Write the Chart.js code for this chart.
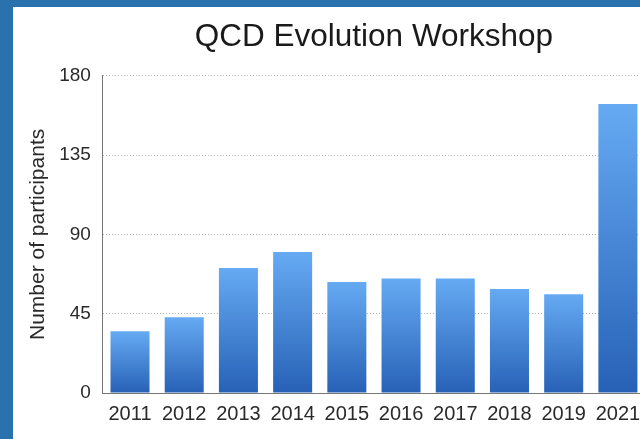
<!DOCTYPE html>
<html>
<head>
<meta charset="utf-8">
<script src="https://cdn.jsdelivr.net/npm/chart.js@4"></script>
<style>
  html, body { margin: 0; padding: 0; background: #2a72ad; width: 640px; height: 439px; overflow: hidden; }
  #panel { position: absolute; left: 13px; top: 7px; width: 627px; height: 432px; background: #fff; overflow: hidden; }
  #wrap { position: absolute; left: 0; top: 0; width: 660px; height: 432px; }
</style>
</head>
<body>
<div id="panel"><div id="wrap"><canvas id="c" width="660" height="432"></canvas></div></div>
<script>
const years = ["2011", "2012", "2013", "2014", "2015", "2016", "2017", "2018", "2019", "2021"];
const participants = [35, 43, 71, 80, 63, 65, 65, 59, 56, 164];
const yTicks = [0, 45, 90, 135, 180];
const titleText = "QCD Evolution Workshop";
const yTitle = "Number of participants";

const FONT = "'Liberation Sans', Arial, sans-serif";

function barGradient(ctx) {
  const chart = ctx.chart;
  if (!chart.chartArea || ctx.raw === undefined) return '#4a8ad8';
  const ys = chart.scales.y;
  const top = ys.getPixelForValue(ctx.raw);
  const bottom = ys.getPixelForValue(0);
  const g = chart.ctx.createLinearGradient(0, top, 0, bottom);
  g.addColorStop(0, '#66aaf3');
  g.addColorStop(1, '#2761b6');
  return g;
}

new Chart(document.getElementById('c'), {
  type: 'bar',
  data: {
    labels: years,
    datasets: [{
      data: participants,
      backgroundColor: barGradient,
      borderWidth: 0,
      barPercentage: 0.72,
      categoryPercentage: 1.0
    }]
  },
  options: {
    responsive: false,
    animation: false,
    layout: { padding: { left: 13, right: 28, top: 0, bottom: 4 } },
    plugins: {
      legend: { display: false },
      tooltip: { enabled: false },
      title: {
        display: true,
        text: titleText,
        fullSize: false,
        color: '#1a1a1a',
        font: { family: FONT, size: 31.5, weight: 'normal' },
        padding: { top: 11, bottom: 20 }
      }
    },
    scales: {
      x: {
        grid: { display: false, drawTicks: false },
        border: { display: true, color: '#777', width: 1 },
        ticks: {
          color: '#2a2a2a',
          font: { family: FONT, size: 20 },
          padding: 9,
          maxRotation: 0,
          autoSkip: false
        }
      },
      y: {
        min: 0,
        max: 180,
        afterBuildTicks: (axis) => { axis.ticks = yTicks.map(v => ({ value: v })); },
        grid: { color: '#b5b5b5', lineWidth: 1, drawTicks: false },
        border: { display: true, color: '#777', width: 1, dash: [1, 2] },
        ticks: {
          color: '#2a2a2a',
          font: { family: FONT, size: 19 },
          padding: 12
        },
        title: {
          display: true,
          text: yTitle,
          color: '#2a2a2a',
          font: { family: FONT, size: 21 },
          padding: { top: 0, bottom: -4 }
        }
      }
    }
  }
});
</script>
</body>
</html>
